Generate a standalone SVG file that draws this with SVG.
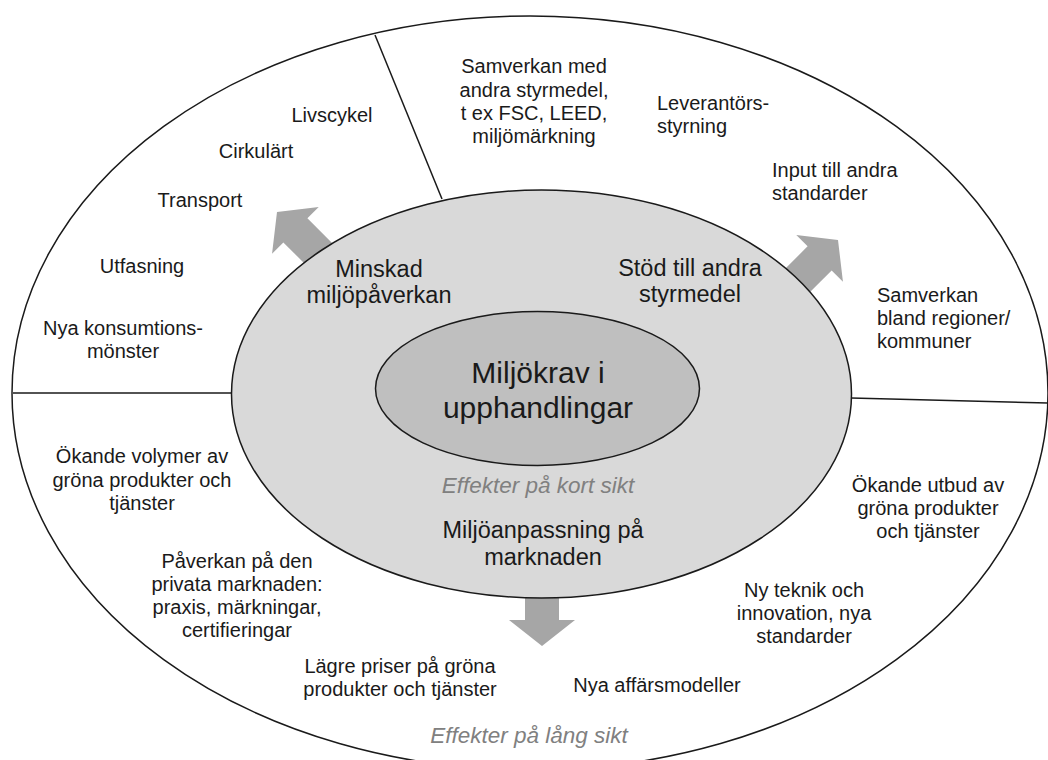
<svg xmlns="http://www.w3.org/2000/svg" width="1048" height="760" viewBox="0 0 1048 760">
<style>
  .shape { stroke: #1a1a1a; stroke-width: 1.5; }
  .line { stroke: #1a1a1a; stroke-width: 1.5; fill: none; }
  .arrow { fill: #a6a6a6; stroke: none; }
  text { font-family: "Liberation Sans", Arial, sans-serif; fill: #1a1a1a; }
  .t20 { font-size: 20px; }
  .t23 { font-size: 23.5px; }
  .t30 { font-size: 30px; }
  .eff { font-size: 22.5px; font-style: italic; fill: #808080; }
  .mid { text-anchor: middle; }
</style>
<defs>
  <polygon id="blockArrow" points="0,0 33,26 17,26 17,80 -17,80 -17,26 -33,26"/>
</defs>
<rect x="0" y="0" width="1048" height="760" fill="#ffffff"/>

<g id="outer-ring">
  <ellipse cx="530" cy="393" rx="518" ry="377" fill="#ffffff" class="shape"/>
</g>

<g id="dividers">
  <line x1="375" y1="35" x2="442" y2="199" class="line"/>
  <line x1="13" y1="393" x2="233" y2="393" class="line"/>
  <line x1="851" y1="398" x2="1048" y2="403" class="line"/>
</g>

<g id="connectors">
  <use href="#blockArrow" class="arrow" transform="translate(277,212) rotate(-45)"/>
  <use href="#blockArrow" class="arrow" transform="translate(838,240) rotate(45)"/>
  <use href="#blockArrow" class="arrow" transform="translate(542,646) rotate(180)"/>
</g>

<g id="middle-ring">
  <ellipse cx="541.5" cy="394" rx="310" ry="204" fill="#d9d9d9" class="shape"/>
</g>

<g id="core">
  <ellipse cx="537.5" cy="388.5" rx="162" ry="77" fill="#bfbfbf" class="shape"/>
  <text class="t30 mid" x="538" y="383">Miljökrav i</text>
  <text class="t30 mid" x="538" y="418">upphandlingar</text>
</g>

<g id="short-term">
  <g id="minskad">
    <text class="t23 mid" x="379" y="277">Minskad</text>
    <text class="t23 mid" x="379" y="303">miljöpåverkan</text>
  </g>
  <g id="stod">
    <text class="t23 mid" x="690" y="276">Stöd till andra</text>
    <text class="t23 mid" x="690" y="302">styrmedel</text>
  </g>
  <text class="eff mid" x="538" y="493">Effekter på kort sikt</text>
  <g id="anpassning">
    <text class="t23 mid" x="543" y="538">Miljöanpassning på</text>
    <text class="t23 mid" x="543" y="565">marknaden</text>
  </g>
</g>

<g id="long-term-env">
  <text class="t20 mid" x="332" y="122">Livscykel</text>
  <text class="t20 mid" x="256" y="158">Cirkulärt</text>
  <text class="t20 mid" x="200" y="207">Transport</text>
  <text class="t20 mid" x="142" y="273">Utfasning</text>
  <text class="t20 mid" x="123" y="335">Nya konsumtions-</text>
  <text class="t20 mid" x="123" y="358">mönster</text>
</g>

<g id="long-term-policy">
  <text class="t20 mid" x="534" y="73">Samverkan med</text>
  <text class="t20 mid" x="534" y="97">andra styrmedel,</text>
  <text class="t20 mid" x="534" y="120">t ex FSC, LEED,</text>
  <text class="t20 mid" x="534" y="143">miljömärkning</text>
  <text class="t20" x="657" y="110">Leverantörs-</text>
  <text class="t20" x="657" y="133">styrning</text>
  <text class="t20" x="772" y="177">Input till andra</text>
  <text class="t20" x="772" y="200">standarder</text>
  <text class="t20" x="877" y="302">Samverkan</text>
  <text class="t20" x="877" y="325">bland regioner/</text>
  <text class="t20" x="877" y="348">kommuner</text>
</g>

<g id="long-term-market">
  <text class="t20 mid" x="142" y="463">Ökande volymer av</text>
  <text class="t20 mid" x="142" y="487">gröna produkter och</text>
  <text class="t20 mid" x="142" y="510">tjänster</text>
  <text class="t20 mid" x="237" y="568">Påverkan på den</text>
  <text class="t20 mid" x="237" y="591">privata marknaden:</text>
  <text class="t20 mid" x="237" y="614">praxis, märkningar,</text>
  <text class="t20 mid" x="237" y="637">certifieringar</text>
  <text class="t20 mid" x="400" y="673">Lägre priser på gröna</text>
  <text class="t20 mid" x="400" y="696">produkter och tjänster</text>
  <text class="t20 mid" x="657" y="692">Nya affärsmodeller</text>
  <text class="t20 mid" x="804" y="597">Ny teknik och</text>
  <text class="t20 mid" x="804" y="620">innovation, nya</text>
  <text class="t20 mid" x="804" y="643">standarder</text>
  <text class="t20 mid" x="928" y="492">Ökande utbud av</text>
  <text class="t20 mid" x="928" y="515">gröna produkter</text>
  <text class="t20 mid" x="928" y="538">och tjänster</text>
  <text class="eff mid" x="529" y="743">Effekter på lång sikt</text>
</g>
</svg>
